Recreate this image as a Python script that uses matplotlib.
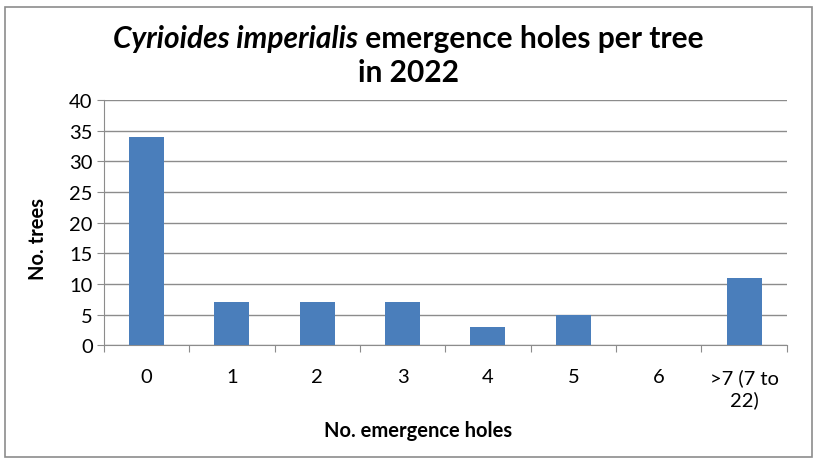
import matplotlib
matplotlib.use("Agg")
import matplotlib.pyplot as plt
from matplotlib.patches import Rectangle

plt.rcParams['font.family'] = ['Lato', 'DejaVu Sans']

categories = ['0', '1', '2', '3', '4', '5', '6', '>7 (7 to\n22)']
trees = [34, 7, 7, 7, 3, 5, 0, 11]
yticks = [0, 5, 10, 15, 20, 25, 30, 35, 40]

fig = plt.figure(figsize=(8.17, 4.64), dpi=100)
ax = fig.add_axes([0.127, 0.254, 0.836, 0.528])

# outer chart border
fig.patches.append(Rectangle((0.006, 0.012), 0.988, 0.97, transform=fig.transFigure,
                             fill=False, edgecolor='#8c8c8c', linewidth=1.2))

x = range(len(categories))
ax.bar(x, trees, width=0.41, color='#4a7ebb', zorder=3)

ax.set_xlim(-0.5, len(categories) - 0.5)
ax.set_ylim(0, 40)
ax.set_yticks(yticks)
ax.tick_params(axis='y', labelsize=14.5, length=5, color='#8c8c8c', pad=3)
ax.yaxis.grid(True, color='#8c8c8c', linewidth=1.0, zorder=0)

# category ticks sit between the bars
ax.set_xticks([i - 0.5 for i in range(len(categories) + 1)], minor=False)
ax.set_xticklabels([])
ax.tick_params(axis='x', length=5, color='#8c8c8c', direction='out')
for i, lab in enumerate(categories):
    ax.text(i, -0.095, lab, transform=ax.get_xaxis_transform(), ha='center', va='top',
            fontsize=14.5, linespacing=1.25)

for s in ['top', 'right']:
    ax.spines[s].set_visible(False)
ax.spines['left'].set_color('#8c8c8c')
ax.spines['bottom'].set_color('#8c8c8c')

fig.text(0.047, 0.485, 'No. trees', rotation=90, ha='center', va='center',
         fontsize=14.5, fontweight='bold')
fig.text(0.512, 0.072, 'No. emergence holes', ha='center', va='center',
         fontsize=14.5, fontweight='bold')

# title: italic species name followed by plain text
fig.canvas.draw()
r = fig.canvas.get_renderer()
t1 = fig.text(0, 0.915, 'Cyrioides imperialis', fontsize=21.5, fontweight='bold',
              style='italic', ha='left', va='center')
t2 = fig.text(0, 0.915, ' emergence holes per tree', fontsize=21.5, fontweight='bold',
              ha='left', va='center')
w1 = t1.get_window_extent(r).width / fig.bbox.width
w2 = t2.get_window_extent(r).width / fig.bbox.width
x0 = 0.5 - (w1 + w2) / 2
t1.set_x(x0)
t2.set_x(x0 + w1)
fig.text(0.5, 0.843, 'in 2022', fontsize=21.5, fontweight='bold', ha='center', va='center')

fig.savefig('out.png', dpi=100)
